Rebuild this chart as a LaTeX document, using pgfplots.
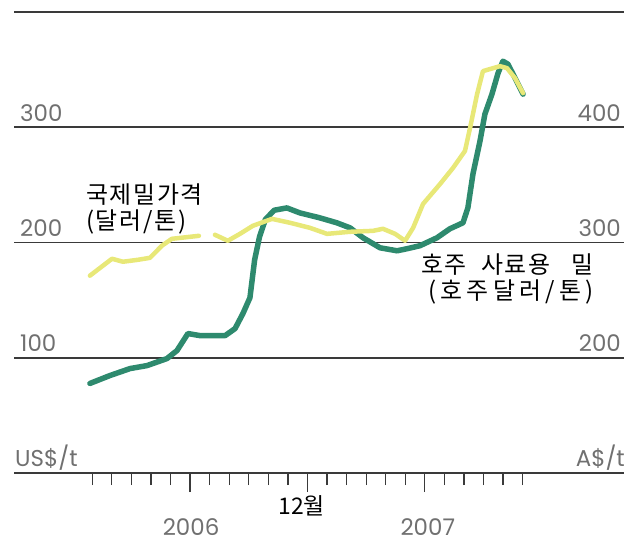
\documentclass[border=0pt]{standalone}
\usepackage{fontspec}
\setmainfont{Poppins}
\newfontfamily\kr[LetterSpace=7]{Noto Sans CJK KR}
\newfontfamily\krwide[LetterSpace=18]{Noto Sans CJK KR}
\newfontfamily\krnum{Noto Sans CJK KR}
\usepackage{pgfplots}
\pgfplotsset{compat=1.18}

\definecolor{wgreen}{HTML}{2E8A6E}
\definecolor{wyellow}{HTML}{E8E878}
\definecolor{numgray}{HTML}{707070}
\definecolor{rule}{HTML}{3A3A3A}

\pgfplotsset{
  chartbox/.style={
    scale only axis, width=610bp, height=461bp,
    xmin=-4, xmax=27.18, clip=false,
  },
}
\tikzset{
  num/.style={inner sep=0pt, text=numgray, font=\fontsize{23}{26}\selectfont},
  krlab/.style={inner sep=0pt, font=\kr\fontsize{24}{26}\selectfont},
}

\begin{document}
\begin{tikzpicture}
\useasboundingbox (-14bp,-67bp) rectangle (610bp,473bp);

% frame: rules, month ticks, labels (US$ scale)
\begin{axis}[
    chartbox,
    ymin=0, ymax=400,
    axis x line=bottom, axis y line=left,
    x axis line style={-, line width=1.5bp, rule},
    y axis line style={draw=none},
    ytick={100,200,300,400}, yticklabels={},
    ytick style={draw=none},
    ymajorgrids,
    major grid style={line width=1.5bp, rule},
    xtick={0,...,22}, xticklabels={},
    tick align=outside,
    xtick style={line width=1.3bp, rule},
    major tick length=12bp,
    extra x ticks={5,11,17}, extra x tick labels={},
    extra x tick style={major tick length=19bp},
]
\node[num, anchor=base west, xshift=6bp, yshift=6bp] at (axis cs:-4,100) {100};
\node[num, anchor=base west, xshift=6bp, yshift=6bp] at (axis cs:-4,200) {200};
\node[num, anchor=base west, xshift=6bp, yshift=6bp] at (axis cs:-4,300) {300};
\node[num, anchor=base east, xshift=-3bp, yshift=6bp] at (axis cs:27.18,100) {200};
\node[num, anchor=base east, xshift=-3bp, yshift=6bp] at (axis cs:27.18,200) {300};
\node[num, anchor=base east, xshift=-3bp, yshift=6bp] at (axis cs:27.18,300) {400};
\node[num, anchor=base west, xshift=1bp, yshift=7bp] at (axis cs:-4,0) {US\$/t};
\node[num, anchor=base east, xshift=1bp, yshift=7bp] at (axis cs:27.18,0) {A\$/t};

\node[inner sep=0pt, anchor=center, font=\krnum\fontsize{23}{26}\selectfont] at (axis cs:10.7,-28.9) {12월};
\node[num, anchor=center] at (axis cs:5.05,-46.5) {2006};
\node[num, anchor=center] at (axis cs:17.15,-46.5) {2007};

\node[krlab, align=left, anchor=west] at (axis cs:-0.32,229)
  {국제밀가격\\(달러/톤)};
\node[krlab, align=right, anchor=east] at (axis cs:25.65,168)
  {호주\hspace{0.6em}사료용\hspace{0.9em}밀\\{\krwide(호주달러/톤)}\hspace{-3bp}};
\end{axis}

% Australian feed wheat, A$/t (right scale)
\begin{axis}[chartbox, ymin=100, ymax=500, hide axis]
\addplot[wgreen, line width=5.5bp, line join=round, line cap=round] coordinates {
(-0.12,177.7) (0.91,184.6) (1.93,190.6) (2.8,193.2) (3.82,199.3) (4.33,206.2)
(4.89,221.0) (5.51,219.2) (6.79,219.2) (7.3,225.3) (7.7,238.3) (8.06,252.1)
(8.3,285) (8.55,305) (8.85,320) (9.3,328) (9.95,330) (10.61,325.7)
(11.63,321.4) (12.5,317.1) (13.18,312.7) (13.84,304.1) (14.71,295.4)
(15.58,292.8) (16.09,294.6) (16.75,297.2) (17.62,304.1) (18.28,311.9)
(18.95,317.1) (19.2,330.1) (19.46,359.5) (19.82,388.1) (20.07,411.4)
(20.43,428.7) (20.74,446.9) (20.99,457.3) (21.25,454.7) (21.61,442.6)
(22.02,428.7)
};
\end{axis}

% international wheat price, US$/t (left scale)
\begin{axis}[chartbox, ymin=0, ymax=400, hide axis, unbounded coords=jump]
\addplot[wyellow, line width=4.5bp, line join=round, line cap=round] coordinates {
(-0.12,171.2) (1.01,185.9) (1.57,183.3) (2.34,185.0) (2.95,186.7) (3.56,197.2)
(4.07,203.2) (5.45,205.8) (5.9,nan) (6.27,206.7) (6.93,201.5) (7.55,207.5)
(8.21,214.5) (9.19,220.5) (10.11,217.1) (11.13,212.7) (12.0,207.5)
(13.18,209.3) (14.35,210.1) (14.86,211.9) (15.48,207.5) (15.99,201.5)
(16.4,212.7) (16.91,233.5) (17.78,250.8) (18.44,264.7) (19.05,279.4)
(19.31,299.3) (19.67,328.7) (19.97,348.7) (20.84,353.0) (21.2,351.3)
(21.61,342.6) (22.02,329.6)
};
\end{axis}
\end{tikzpicture}
\end{document}
